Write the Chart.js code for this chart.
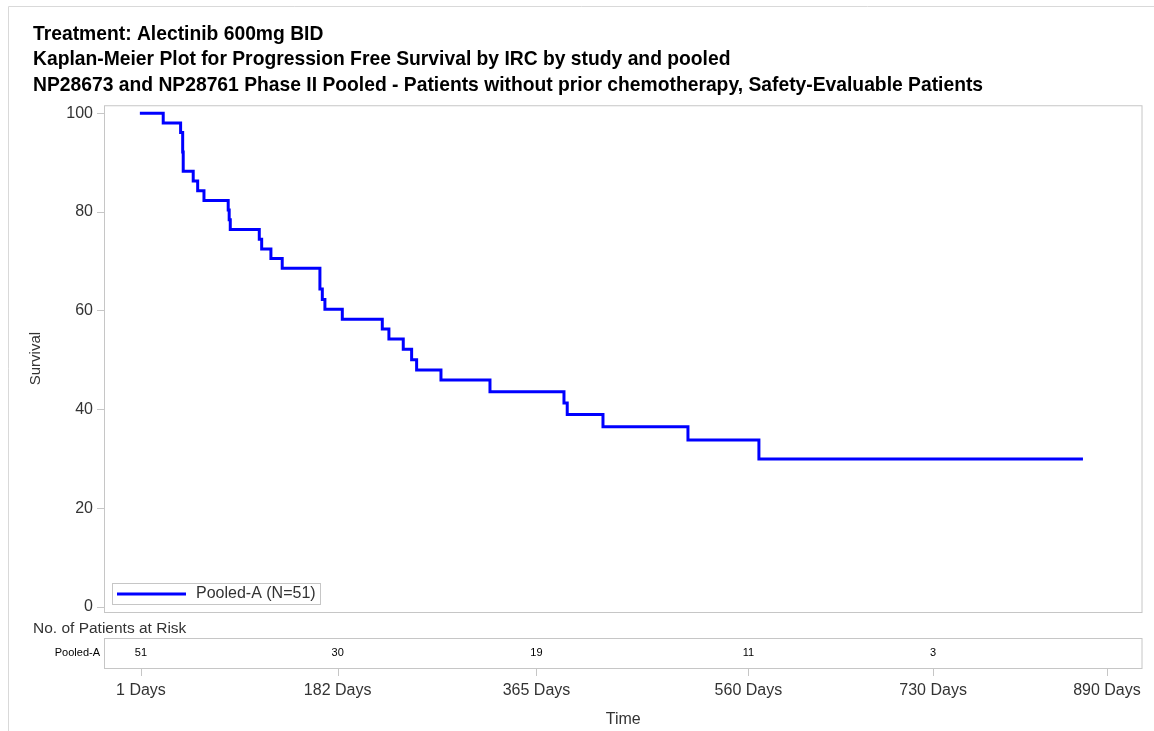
<!DOCTYPE html>
<html>
<head>
<meta charset="utf-8">
<title>Kaplan-Meier PFS</title>
<script src="https://cdn.jsdelivr.net/npm/chart.js@4/dist/chart.umd.min.js"></script>
<style>
  html, body { margin: 0; padding: 0; background: #fff; }
</style>
</head>
<body>
<canvas id="kmChart" width="1154" height="731"></canvas>
<script>
"use strict";

const titleLines = [
  "Treatment: Alectinib 600mg BID",
  "Kaplan-Meier Plot for Progression Free Survival by IRC by study and pooled",
  "NP28673 and NP28761 Phase II Pooled - Patients without prior chemotherapy, Safety-Evaluable Patients",
];
const seriesLabel = "Pooled-A (N=51)";
const riskLabel = "Pooled-A";

// step times (days) and survival (%) after each step
const eventDays = [
  0, 21.5, 37.5, 39.4, 39.9, 49.1, 53.2, 59.0, 81.3, 82.2, 83.2, 109.9, 112.1,
  120.6, 131.0, 165.7, 167.9, 170.3, 186.3, 223.1, 229.2, 242.4, 250.1, 254.7,
  277.1, 322.2, 390.3, 393.3, 426.2, 504.4, 569.7, 867.9,
];
const survival = [
  100, 98.04, 96.08, 92.16, 88.24, 86.27, 84.31, 82.35, 80.39, 78.43, 76.47,
  74.5, 72.5, 70.6, 68.6, 64.4, 62.3, 60.3, 58.3, 56.3, 54.3, 52.2, 50.1, 48.0,
  46.0, 43.6, 41.3, 39.0, 36.5, 33.8, 30.0, 30.0,
];

const timeTicks = [1, 182, 365, 560, 730, 890];
const survivalTicks = [0, 20, 40, 60, 80, 100];
const riskDays = [1, 182, 365, 560, 730];
const riskCounts = [51, 30, 19, 11, 3];

const FONT = "'Liberation Sans', Arial, sans-serif";
const frameColor = "#c6c6c6";
const textColor = "#333";

const kmDecor = {
  id: "kmDecor",
  beforeDatasetsDraw(chart) {
    const { ctx, chartArea: a } = chart;
    ctx.save();
    ctx.strokeStyle = frameColor;
    ctx.lineWidth = 1;
    ctx.strokeRect(a.left + 0.5, a.top + 0.5, a.right - a.left - 1, a.bottom - a.top);
    ctx.restore();
  },
  afterDraw(chart) {
    const { ctx, chartArea: a } = chart;
    const xs = chart.scales.x;
    const ds = chart.data.datasets[0];
    ctx.save();

    // outer border of the picture
    ctx.strokeStyle = "#d9d9d9";
    ctx.lineWidth = 1;
    ctx.beginPath();
    ctx.moveTo(8.5, 731);
    ctx.lineTo(8.5, 6.5);
    ctx.lineTo(1154, 6.5);
    ctx.stroke();

    // legend inside plot
    ctx.strokeStyle = frameColor;
    ctx.strokeRect(a.left + 8.5, 583.5, 208, 21);
    ctx.strokeStyle = ds.borderColor;
    ctx.lineWidth = 3;
    ctx.beginPath();
    ctx.moveTo(a.left + 13, 594);
    ctx.lineTo(a.left + 82, 594);
    ctx.stroke();
    ctx.fillStyle = textColor;
    ctx.font = "16px " + FONT;
    ctx.textBaseline = "middle";
    ctx.textAlign = "left";
    ctx.fillText(ds.label, a.left + 92, 594);

    // risk table
    ctx.font = "15.5px " + FONT;
    ctx.fillText("No. of Patients at Risk", 33, 629);
    ctx.strokeStyle = frameColor;
    ctx.lineWidth = 1;
    ctx.strokeRect(a.left + 0.5, 638.5, a.right - a.left - 1, 30);
    ctx.font = "11px " + FONT;
    ctx.fillStyle = "#000";
    ctx.textAlign = "right";
    ctx.fillText(riskLabel, a.left - 4, 653);
    ctx.textAlign = "center";
    riskDays.forEach((d, i) => {
      ctx.fillText(String(riskCounts[i]), xs.getPixelForValue(d), 653);
    });

    // x tick marks under the risk table
    ctx.strokeStyle = frameColor;
    ctx.beginPath();
    timeTicks.forEach((t) => {
      const px = Math.round(xs.getPixelForValue(t)) + 0.5;
      ctx.moveTo(px, 669);
      ctx.lineTo(px, 676);
    });
    ctx.stroke();
    ctx.restore();
  },
};

const points = eventDays.map((d, i) => ({ x: d, y: survival[i] }));

new Chart(document.getElementById("kmChart"), {
  type: "line",
  data: {
    datasets: [
      {
        label: seriesLabel,
        data: points,
        borderColor: "#0000ff",
        borderWidth: 3,
        stepped: true,
        pointRadius: 0,
        fill: false,
        borderJoinStyle: "miter",
      },
    ],
  },
  options: {
    responsive: false,
    animation: false,
    devicePixelRatio: 1,
    layout: { padding: { left: 33, right: 11.5, top: 0, bottom: 0 } },
    plugins: {
      legend: { display: false },
      tooltip: { enabled: false },
      title: {
        display: true,
        text: titleLines,
        align: "start",
        color: "#000",
        font: { family: FONT, size: 19.3, weight: "bold", lineHeight: 1.31 },
        padding: { top: 22, bottom: 7.4 },
      },
    },
    scales: {
      x: {
        type: "linear",
        position: "bottom",
        min: -33,
        max: 922.7,
        afterFit: (s) => {
          s.height = 119;
          s.paddingLeft = 0;
          s.paddingRight = 0;
        },
        afterBuildTicks: (s) => { s.ticks = timeTicks.map((v) => ({ value: v })); },
        grid: { display: false, drawTicks: false },
        border: { display: false },
        ticks: {
          autoSkip: false,
          maxRotation: 0,
          padding: 69,
          color: textColor,
          font: { family: FONT, size: 16 },
          callback: (v) => v + " Days",
        },
        title: {
          display: true,
          text: "Time",
          color: textColor,
          font: { family: FONT, size: 16 },
          padding: { top: 0, bottom: 2 },
        },
      },
      y: {
        type: "linear",
        position: "left",
        min: -1.01,
        max: 101.62,
        afterFit: (s) => { s.width = 71; },
        afterBuildTicks: (s) => { s.ticks = survivalTicks.map((v) => ({ value: v })); },
        grid: { drawOnChartArea: false, tickLength: 7, color: frameColor },
        border: { display: false },
        ticks: {
          padding: 4,
          color: textColor,
          font: { family: FONT, size: 16 },
        },
        title: {
          display: true,
          text: "Survival",
          color: textColor,
          font: { family: FONT, size: 15 },
          padding: { top: -6, bottom: 0 },
        },
      },
    },
  },
  plugins: [kmDecor],
});
</script>
</body>
</html>
